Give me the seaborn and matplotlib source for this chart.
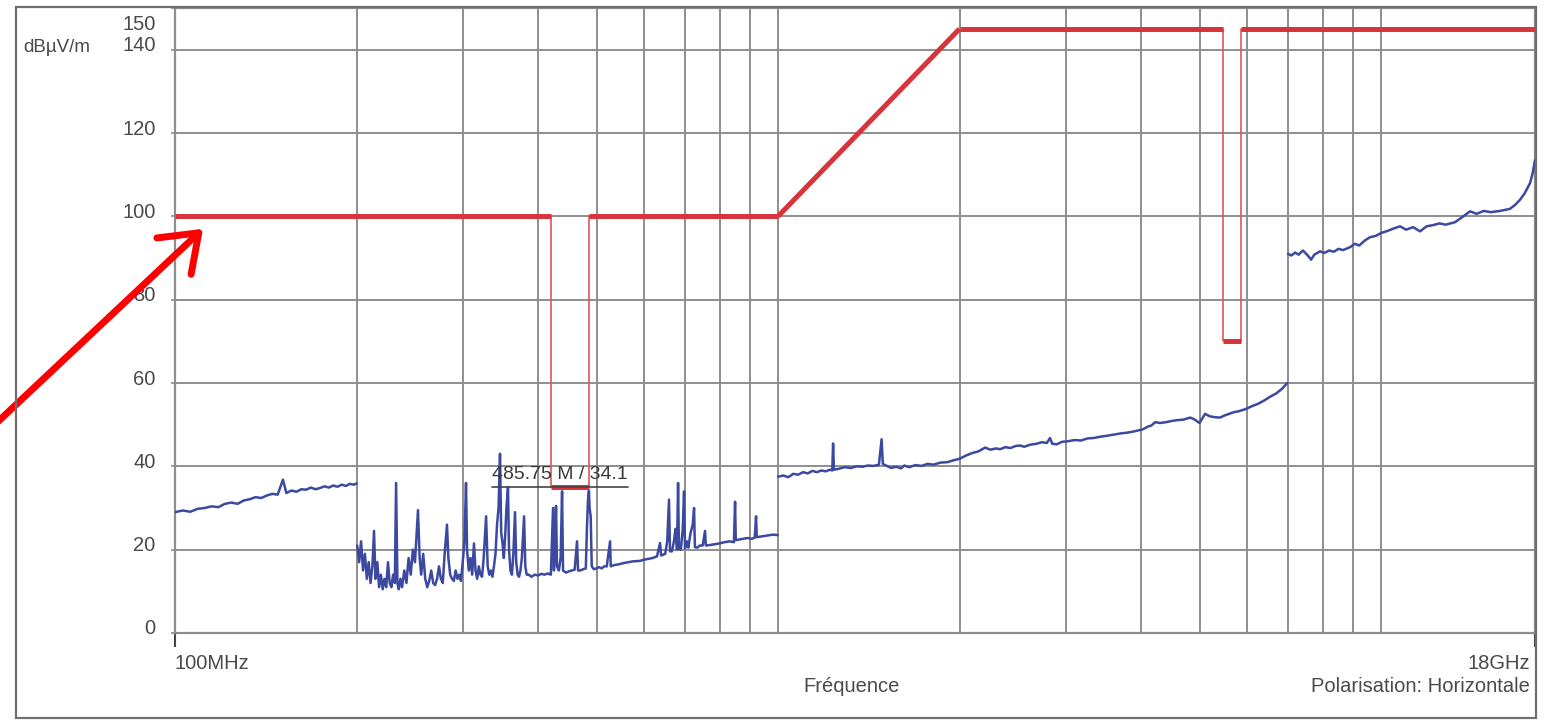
import numpy as np
import pandas as pd
import seaborn as sns
import matplotlib
matplotlib.use("Agg")
import matplotlib.pyplot as plt
from matplotlib.patches import Rectangle
from matplotlib.lines import Line2D
from matplotlib.transforms import ScaledTranslation

# ---------------------------------------------------------------------------
# Measured emission trace (frequency in MHz, level in dBµV/m), one array pair
# per sweep band
# ---------------------------------------------------------------------------
band1_f = [100, 103, 106, 109, 112, 115, 118, 121, 124, 127, 130, 133, 136, 139,
           142, 145, 148, 151, 153, 156, 159, 162, 165, 168, 171, 174, 177, 180,
           183, 186, 189, 192, 195, 198, 200]
band1_db = [29.0, 29.4, 29.1, 29.8, 30.0, 30.4, 30.2, 31.0, 31.3, 31.0, 31.8, 32.1,
            32.6, 32.4, 33.0, 33.4, 33.2, 36.8, 33.6, 34.2, 33.9, 34.5, 34.4, 34.9,
            34.5, 34.8, 35.2, 34.9, 35.4, 35.1, 35.6, 35.3, 35.8, 35.6, 35.9]

band2_f = [200.5, 202, 203.5, 205, 206.5, 208, 209.5, 211, 212.5, 213.8, 215, 216.5,
           218, 219.5, 221, 222.5, 224, 225.5, 227, 228.5, 230, 231.5, 232.6, 233.8,
           235, 236.5, 238, 240, 242, 244, 246, 248, 250, 252.9, 254.5, 256, 258,
           260, 262, 264, 266, 268, 270, 272, 274, 276, 278, 280, 282.5, 284, 286,
           288, 290, 292, 294, 296, 298, 300, 302, 303.8, 305, 307, 309, 311, 313.2,
           315, 317, 319, 321, 323, 325, 328, 330, 332, 334, 336, 338, 340, 342,
           344, 345.9, 347.5, 349, 351, 353, 354.5, 356.6, 358, 360, 362, 364,
           366.3, 368, 370, 372, 374, 376, 379.2, 381, 383, 386, 390, 395, 400,
           405, 410, 415, 420, 423.6, 425, 427, 428.4, 430, 433, 436, 438.4, 440,
           445, 450, 455, 460, 464.2, 466, 470, 475, 480, 482, 484, 485.75, 487,
           489, 491, 495, 500, 505, 510, 515, 520, 526.6, 528, 535, 545, 555, 565,
           575, 590, 600, 610, 620, 630, 637.3, 640, 650, 655, 659.5, 662, 667,
           672, 676, 680, 682.7, 685, 690, 695, 698.5, 701, 706, 710, 716, 722,
           725.7, 728, 735, 742, 750, 756.8, 759, 770, 785, 800, 815, 830, 845,
           848.7, 851, 860, 875, 890, 905, 915, 919.5, 922, 940, 960, 980, 999]
band2_db = [21.0, 17.0, 22.0, 15.0, 19.0, 13.0, 17.0, 12.0, 16.0, 24.5, 13.0, 17.0,
            11.0, 14.0, 10.5, 13.0, 11.0, 17.0, 12.0, 11.0, 14.0, 12.0, 36.0, 12.0,
            10.5, 13.0, 11.0, 15.0, 12.0, 18.0, 14.0, 20.0, 17.0, 29.5, 18.0, 14.0,
            19.0, 13.0, 11.0, 12.5, 15.0, 12.0, 11.5, 13.0, 16.0, 13.0, 12.0, 19.0,
            26.0, 18.0, 14.0, 13.0, 12.5, 15.0, 13.0, 14.0, 12.5, 17.0, 22.0, 36.0,
            20.0, 15.0, 18.0, 14.0, 21.5, 15.0, 13.0, 16.0, 14.0, 13.5, 18.0, 28.0,
            16.0, 14.0, 15.0, 13.5, 16.0, 19.0, 26.0, 30.0, 43.0, 24.0, 22.0, 18.0,
            24.0, 30.0, 35.0, 20.0, 15.0, 14.0, 19.0, 29.0, 17.0, 14.0, 13.5, 15.0,
            18.0, 28.0, 16.0, 14.0, 14.0, 13.5, 14.0, 13.8, 14.2, 14.0, 14.3, 14.0,
            30.0, 15.0, 22.0, 30.5, 16.0, 15.0, 18.0, 34.0, 15.0, 14.5, 14.8, 15.0,
            15.2, 22.0, 15.0, 15.0, 15.3, 15.5, 25.0, 32.0, 34.1, 30.0, 28.0, 16.0,
            15.3, 15.5, 15.8, 15.5, 16.0, 16.0, 22.0, 16.0, 16.3, 16.5, 16.8, 17.0,
            17.2, 17.3, 17.6, 17.8, 18.0, 18.4, 21.6, 18.6, 19.0, 22.0, 32.0, 19.6,
            19.6, 22.0, 25.0, 20.0, 36.0, 20.2, 20.0, 25.0, 34.0, 20.3, 22.0, 20.5,
            24.0, 26.0, 30.0, 20.6, 20.5, 21.0, 21.0, 24.5, 21.0, 21.1, 21.3, 21.5,
            21.8, 22.0, 21.8, 31.5, 22.3, 22.4, 22.6, 22.8, 22.6, 22.9, 28.0,
            23.0, 23.2, 23.4, 23.6, 23.5]

band3_f = [1000, 1020, 1040, 1060, 1080, 1100, 1120, 1140, 1160, 1180, 1200, 1220,
           1230, 1234, 1238, 1260, 1290, 1320, 1350, 1380, 1410, 1440, 1470, 1485,
           1492, 1510, 1540, 1570, 1600, 1620, 1650, 1690, 1730, 1770, 1810, 1860,
           1910, 1960, 2000, 2050, 2100, 2150, 2205, 2250, 2300, 2335, 2380, 2430,
           2480, 2519, 2560, 2620, 2680, 2740, 2790, 2825, 2850, 2900, 2960, 3020,
           3100, 3180, 3260, 3340, 3420, 3500, 3600, 3700, 3800, 3900, 4030, 4100,
           4160, 4220, 4300, 4400, 4500, 4600, 4700, 4824, 4900, 5000, 5107, 5200,
           5300, 5408, 5500, 5600, 5700, 5800, 5951, 6100, 6250, 6400, 6545, 6700,
           6850, 6990]
band3_db = [37.5, 37.8, 37.4, 38.2, 38.0, 38.6, 38.3, 38.9, 38.6, 39.0, 38.8, 39.2,
            39.0, 45.5, 39.2, 39.4, 39.8, 39.6, 40.0, 39.9, 40.2, 40.1, 40.4, 46.5,
            40.6, 40.2, 39.6, 39.9, 39.5, 40.2, 39.8, 40.3, 40.1, 40.6, 40.4, 40.9,
            41.0, 41.5, 41.8, 42.6, 43.2, 43.6, 44.5, 44.0, 44.3, 44.1, 44.6, 44.4,
            44.9, 45.0, 44.7, 45.2, 45.4, 45.8, 45.6, 46.8, 45.4, 45.3, 45.9, 46.0,
            46.3, 46.2, 46.7, 46.8, 47.1, 47.3, 47.6, 47.9, 48.1, 48.4, 48.9, 49.5,
            49.8, 50.6, 50.4, 50.6, 50.9, 51.1, 51.2, 51.7, 51.3, 50.4, 52.6, 52.0,
            51.8, 51.7, 52.2, 52.6, 53.0, 53.2, 53.7, 54.4, 55.0, 55.8, 56.7, 57.5,
            58.6, 60.0]

band4_f = [7010, 7100, 7200, 7300, 7420, 7550, 7655, 7750, 7922, 8050, 8200, 8350,
           8500, 8650, 8882, 9050, 9200, 9400, 9590, 9800, 10000, 10250, 10500,
           10753, 11000, 11300, 11606, 11900, 12200, 12500, 12800, 13266, 13600,
           14046, 14400, 14800, 15200, 15749, 16000, 16363, 16700, 17004, 17300,
           17665, 17850, 18000]
band4_db = [91.0, 90.6, 91.3, 90.8, 91.8, 90.7, 89.6, 90.8, 91.6, 91.2, 91.8, 91.5,
            92.2, 91.9, 92.6, 93.4, 93.0, 94.2, 95.0, 95.3, 96.0, 96.5, 97.1, 97.6,
            96.8, 97.4, 96.4, 97.6, 97.9, 98.3, 98.0, 98.6, 99.7, 101.2, 100.6,
            101.3, 101.0, 101.3, 101.5, 101.8, 102.8, 104.0, 105.5, 108.0, 110.5,
            113.5]

# Limit line (MHz, dBµV/m)
limit_f = [100, 420, 420, 486, 486, 1000, 2000, 5470, 5470, 5850, 5850, 18000]
limit_db = [100, 100, 35, 35, 100, 100, 145, 145, 70, 70, 145, 145]

# Peak marker
marker_f = 485.75
marker_db = 34.1
marker_label = "485.75 M / 34.1"

# Axis texts
y_ticks = [0, 20, 40, 60, 80, 100, 120, 140, 150]
x_tick_pos = [100, 18000]
x_tick_labels = ["100MHz", "18GHz"]
grid_freqs = [200, 300, 400, 500, 600, 700, 800, 900, 1000, 2000, 3000, 4000,
              5000, 6000, 7000, 8000, 9000, 10000]
unit_label = "dBµV/m"
x_title = "Fréquence"
pol_label = "Polarisation: Horizontale"

# ---------------------------------------------------------------------------
W, H, DPI = 1549, 721, 100
sns.set_style("white")
plt.rcParams["font.family"] = ["Liberation Sans", "DejaVu Sans"]

TEXT = "#4a4a4a"
GRID = "#8e8e8e"
RED = "#d8343c"
BLUE = "#3b49a0"

fig = plt.figure(figsize=(W / DPI, H / DPI), dpi=DPI)
ax = fig.add_axes([175 / W, 1 - 633 / H, (1535 - 175) / W, (633 - 8) / H])

# trace
trace = pd.concat([
    pd.DataFrame({"freq": f, "level": d, "band": i})
    for i, (f, d) in enumerate([(band1_f, band1_db), (band2_f, band2_db),
                                (band3_f, band3_db), (band4_f, band4_db)])
])
sns.lineplot(data=trace, x="freq", y="level", units="band", estimator=None,
             sort=False, color=BLUE, lw=1.8, ax=ax, zorder=3)

# limit line: steps drawn thin, level runs drawn thick
thick_rows, thin_rows = [], []
for i in range(len(limit_f) - 1):
    rows = thin_rows if limit_f[i] == limit_f[i + 1] else thick_rows
    rows.append({"freq": limit_f[i], "level": limit_db[i], "piece": i})
    rows.append({"freq": limit_f[i + 1], "level": limit_db[i + 1], "piece": i})
sns.lineplot(data=pd.DataFrame(thin_rows), x="freq", y="level", units="piece",
             estimator=None, sort=False, color="#e0545a", lw=1.2, ax=ax, zorder=4)
sns.lineplot(data=pd.DataFrame(thick_rows), x="freq", y="level", units="piece",
             estimator=None, sort=False, color=RED, lw=3.6, ax=ax, zorder=4,
             solid_capstyle="butt")

ax.set_xscale("log")
ax.set_xlim(100, 18000)
ax.set_ylim(0, 150)

# grid and ticks
ax.set_xticks(x_tick_pos)
ax.set_xticklabels(x_tick_labels)
ax.set_xticks(grid_freqs, minor=True)
ax.set_xticklabels([], minor=True)
ax.tick_params(axis="x", which="minor", length=0)
ax.tick_params(axis="x", which="major", bottom=True, direction="out", length=10,
               width=1.5, color="#444444", pad=5, labelsize=14.5,
               labelcolor=TEXT)
ax.xaxis.grid(True, which="minor", color=GRID, lw=1.4)
ax.xaxis.grid(False, which="major")
ax.set_yticks(y_ticks)
ax.set_yticklabels([str(v) for v in y_ticks])
ax.yaxis.grid(True, color=GRID, lw=1.4)
ax.tick_params(axis="y", left=True, direction="out", length=3, width=1.2,
               color=GRID, pad=11, labelsize=14.5, labelcolor=TEXT)
ax.set_xlabel("")
ax.set_ylabel("")
for sp in ax.spines.values():
    sp.set_color(GRID)
    sp.set_linewidth(1.6)

# x tick labels hug their ticks
xl = ax.get_xticklabels()
xl[0].set_ha("left")
xl[1].set_ha("right")
xl[1].set_transform(xl[1].get_transform() +
                    ScaledTranslation(-5 / DPI, 0, fig.dpi_scale_trans))
# y tick labels sit a little above their grid lines; the top one stays inside
for lab, v in zip(ax.get_yticklabels(), y_ticks):
    dy = -14 if v == 150 else 6
    lab.set_transform(lab.get_transform() +
                      ScaledTranslation(0, dy / DPI, fig.dpi_scale_trans))

# figure texts
fig.text(23 / W, 1 - 48 / H, unit_label, ha="left", va="center",
         fontsize=13.5, color=TEXT)
fig.text(852 / W, 1 - 686 / H, x_title, ha="center", va="center",
         fontsize=14.5, color=TEXT)
fig.text(1530 / W, 1 - 686 / H, pol_label, ha="right", va="center",
         fontsize=14.5, color=TEXT)

# outer frame (its right side runs along the plot's right edge)
fig.add_artist(Rectangle((16 / W, 3 / H), (1536 - 16) / W, (718 - 7) / H,
                         transform=fig.transFigure, fill=False,
                         edgecolor="#6f6f6f", lw=1.6))

# peak marker label with underline
txt = ax.annotate(marker_label, xy=(marker_f, marker_db), xytext=(-29, 8),
                  textcoords="offset pixels", ha="center", va="bottom",
                  fontsize=14, color="#3a3a3a", zorder=6)
fig.canvas.draw()
bb = txt.get_window_extent()
py = ax.transData.transform((marker_f, marker_db))[1] + 4
inv = fig.transFigure.inverted()
(x0, y0), (x1, _) = inv.transform([(bb.x0, py), (bb.x1, py)])
fig.add_artist(Line2D([x0, x1], [y0, y0], transform=fig.transFigure,
                      color="#444444", lw=1.2, zorder=6))

# red pointer to the limit line
ax.annotate("", xy=(111.3, 97), xycoords="data",
            xytext=(-12, H - 431), textcoords="figure pixels",
            arrowprops=dict(arrowstyle="->,head_length=2.45,head_width=1.8",
                            color="#ff0000", lw=5, mutation_scale=10,
                            shrinkA=0, shrinkB=0),
            annotation_clip=False, zorder=10)

fig.savefig("out.png", dpi=DPI)
